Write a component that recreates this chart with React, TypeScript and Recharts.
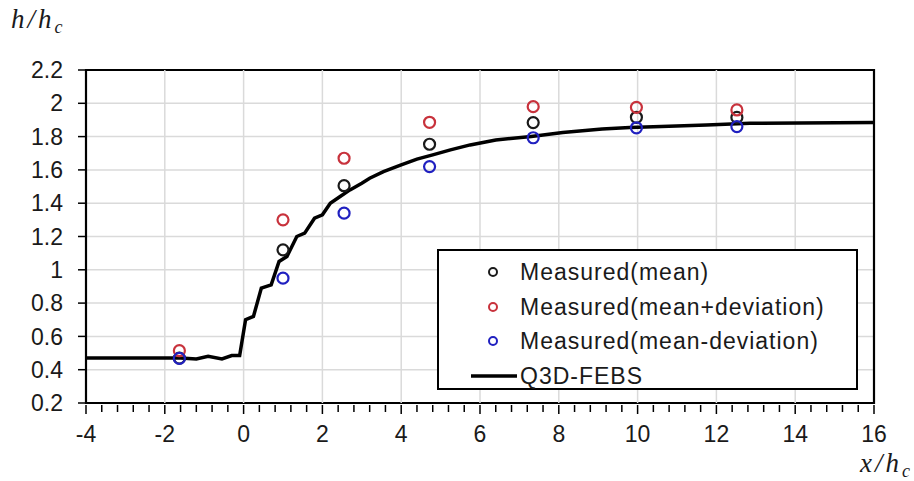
import React from "react";
import {
  ComposedChart,
  Line,
  Scatter,
  XAxis,
  YAxis,
  CartesianGrid,
  ReferenceLine,
  ReferenceArea,
  Legend,
} from "recharts";

// Q3D-FEBS simulated profile
const simX = [
  -4, -1.6, -1.2, -0.9, -0.55, -0.3, -0.1, 0.05, 0.25, 0.45, 0.7, 0.9, 1.1, 1.35,
  1.55, 1.8, 2.0, 2.2, 2.45, 2.7, 3.0, 3.2, 3.55, 4.0, 4.4, 4.8, 5.25, 5.75, 6.4,
  7.3, 8.1, 9.1, 9.8, 10.6, 11.75, 12.85, 16,
];
const simY = [
  0.47, 0.47, 0.465, 0.48, 0.465, 0.485, 0.485, 0.7, 0.72, 0.89, 0.91, 1.05, 1.08,
  1.2, 1.22, 1.31, 1.33, 1.4, 1.44, 1.48, 1.52, 1.55, 1.59, 1.63, 1.665, 1.69,
  1.72, 1.75, 1.78, 1.8, 1.825, 1.845, 1.855, 1.86, 1.87, 1.88, 1.885,
];

// measured points
const measX = [-1.63, 1.0, 2.55, 4.72, 7.35, 9.97, 12.52];
const meanY = [0.47, 1.12, 1.505, 1.754, 1.884, 1.916, 1.915];
const plusY = [0.514, 1.3, 1.67, 1.886, 1.98, 1.976, 1.96];
const minusY = [0.468, 0.95, 1.34, 1.62, 1.793, 1.853, 1.86];

const majorX = [-4, -2, 0, 2, 4, 6, 8, 10, 12, 14, 16];
const xTicks = [
  -4, -3.6, -3.2, -2.8, -2.4, -2, -1.6, -1.2, -0.8, -0.4, 0, 0.4, 0.8, 1.2, 1.6, 2,
  2.4, 2.8, 3.2, 3.6, 4, 4.4, 4.8, 5.2, 5.6, 6, 6.4, 6.8, 7.2, 7.6, 8, 8.4, 8.8,
  9.2, 9.6, 10, 10.4, 10.8, 11.2, 11.6, 12, 12.4, 12.8, 13.2, 13.6, 14, 14.4, 14.8,
  15.2, 15.6, 16,
];
const yTicks = [0.2, 0.4, 0.6, 0.8, 1, 1.2, 1.4, 1.6, 1.8, 2, 2.2];

const legendItems = [
  { name: "Measured(mean)", color: "#1a1a1a", kind: "circle" },
  { name: "Measured(mean+deviation)", color: "#c8323c", kind: "circle" },
  { name: "Measured(mean-deviation)", color: "#2020c0", kind: "circle" },
  { name: "Q3D-FEBS", color: "#000", kind: "line" },
];

const simData = simX.map((x, i) => ({ x, y: simY[i] }));
const meanData = measX.map((x, i) => ({ x, y: meanY[i] }));
const plusData = measX.map((x, i) => ({ x, y: plusY[i] }));
const minusData = measX.map((x, i) => ({ x, y: minusY[i] }));

const font = "'Liberation Sans', Arial, sans-serif";
const mathFont = "'Liberation Serif', serif";

const ring = (color: string) => (p: any) =>
  <circle cx={p.cx} cy={p.cy} r={5.5} fill="none" stroke={color} strokeWidth={2.2} />;

const XTick = (props: any) => {
  const { x, y, payload } = props;
  const major = majorX.includes(payload.value);
  return (
    <g>
      <line x1={x} x2={x} y1={y} y2={y + (major ? 9 : 7)} stroke="#000" strokeWidth={1.5} />
      {major && (
        <text x={x} y={y + 37} textAnchor="middle" fontSize={23} fill="#1a1a1a" fontFamily={font}>
          {payload.value}
        </text>
      )}
    </g>
  );
};

const LegendBox = () => (
  <div
    style={{
      boxSizing: "border-box",
      width: 421,
      height: 141,
      border: "2px solid #000",
      background: "#fff",
      position: "relative",
      fontFamily: font,
      fontSize: 23,
      letterSpacing: 1,
      color: "#1a1a1a",
    }}
  >
    {legendItems.map((it, i) => (
      <div key={it.name} style={{ position: "absolute", left: 0, top: 4 + i * 34.5, height: 34, width: 417 }}>
        <svg width={80} height={34} style={{ position: "absolute", left: 0, top: 0 }}>
          {it.kind === "circle" ? (
            <circle cx={54} cy={17} r={4} fill="none" stroke={it.color} strokeWidth={2} />
          ) : (
            <line x1={32} x2={78} y1={17} y2={17} stroke={it.color} strokeWidth={3.5} />
          )}
        </svg>
        <span style={{ position: "absolute", left: 81, top: 3, lineHeight: "28px", whiteSpace: "nowrap" }}>
          {it.name}
        </span>
      </div>
    ))}
  </div>
);

const titleStyle: React.CSSProperties = {
  position: "absolute",
  fontFamily: mathFont,
  fontStyle: "italic",
  fontSize: 27,
  lineHeight: 1,
  letterSpacing: 3,
  color: "#1a1a1a",
  whiteSpace: "nowrap",
};

export default function App() {
  return (
    <div style={{ position: "absolute", left: 0, top: 0, width: 914, height: 481, background: "#fff" }}>
      <ComposedChart
        width={914}
        height={481}
        margin={{ top: 70, right: 40, bottom: 0, left: 0 }}
      >
        <CartesianGrid vertical={false} stroke="#dadada" strokeWidth={1.5} />
        {majorX.slice(1, -1).map((v) => (
          <ReferenceLine key={v} x={v} stroke="#dadada" strokeWidth={1.5} />
        ))}
        <XAxis
          dataKey="x"
          type="number"
          domain={[-4, 16]}
          ticks={xTicks}
          interval={0}
          axisLine={false}
          tickLine={false}
          tickSize={0}
          height={78}
          tick={<XTick />}
        />
        <YAxis
          type="number"
          domain={[0.2, 2.2]}
          ticks={yTicks}
          interval={0}
          width={86}
          axisLine={false}
          tickSize={8}
          tickMargin={15}
          tickLine={{ stroke: "#000", strokeWidth: 1.5 }}
          tick={{ fontSize: 23, fill: "#1a1a1a", fontFamily: font }}
          tickFormatter={(v: number) => String(Number(v.toFixed(1)))}
        />
        <Line
          data={simData}
          dataKey="y"
          type="linear"
          stroke="#000"
          strokeWidth={3.5}
          dot={false}
          isAnimationActive={false}
        />
        <Scatter data={meanData} dataKey="y" shape={ring("#1a1a1a")} isAnimationActive={false} />
        <Scatter data={plusData} dataKey="y" shape={ring("#c8323c")} isAnimationActive={false} />
        <Scatter data={minusData} dataKey="y" shape={ring("#2020c0")} isAnimationActive={false} />
        <ReferenceArea x1={-4} x2={16} y1={0.2} y2={2.2} fill="none" stroke="#000" strokeWidth={2.2} />
        <Legend
          layout="vertical"
          align="center"
          verticalAlign="middle"
          content={() => <LegendBox />}
          wrapperStyle={{ left: 437, top: 249, width: 421, height: 141 }}
        />
      </ComposedChart>
      <div style={{ ...titleStyle, left: 11, top: 6 }}>
        h/h<span style={{ fontSize: 18, position: "relative", top: 5 }}>c</span>
      </div>
      <div style={{ ...titleStyle, left: 860, top: 450 }}>
        x/h<span style={{ fontSize: 18, position: "relative", top: 5 }}>c</span>
      </div>
    </div>
  );
}
